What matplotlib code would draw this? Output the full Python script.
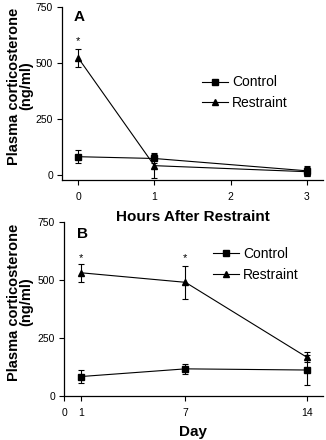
import matplotlib.pyplot as plt
from matplotlib.lines import Line2D

plt.rcParams['font.family'] = ['Liberation Sans', 'DejaVu Sans']

# panel A: hours after restraint
hours = [0, 1, 3]
ctrl_a = [82, 74, 19]
ctrl_a_err = [28, 22, 22]
rest_a = [524, 42, 15]
rest_a_err = [40, 57, 20]

# panel B: days of restraint
days = [1, 7, 14]
ctrl_b = [84, 117, 112]
ctrl_b_err = [27, 21, 65]
rest_b = [531, 490, 167]
rest_b_err = [40, 70, 22]

ylab = "Plasma corticosterone\n(ng/ml)"

fig = plt.figure(figsize=(3.26, 4.4), dpi=100)
axA = fig.add_axes([62/326, 1-180/440, 261/326, 173/440])
axB = fig.add_axes([64/326, 1-396/440, 259/326, 174/440])

handles = [Line2D([], [], color='black', marker='s', ms=4, lw=0.8),
           Line2D([], [], color='black', marker='^', ms=4, lw=0.8)]


def draw(ax, x, c, ce, r, re):
    ax.errorbar(x, c, yerr=ce, color='black', marker='s', ms=4.2, lw=0.8,
                elinewidth=0.8, capsize=2.5, capthick=0.8, clip_on=False)
    ax.errorbar(x, r, yerr=re, color='black', marker='^', ms=4, lw=0.8,
                elinewidth=0.8, capsize=2.5, capthick=0.8, clip_on=False)
    for s in ['top', 'right']:
        ax.spines[s].set_visible(False)
    ax.spines['left'].set_linewidth(0.9)
    ax.spines['bottom'].set_linewidth(0.9)
    ax.set_yticks([0, 250, 500, 750])
    ax.tick_params(labelsize=7.5, length=3.5, width=0.8, pad=3)
    ax.tick_params(axis='x', pad=5)


draw(axA, hours, ctrl_a, ctrl_a_err, rest_a, rest_a_err)
axA.set_xlim(-0.21, 3.21)
axA.set_ylim(-22, 750)
axA.set_xticks([0, 1, 2, 3])
axA.set_xlabel("Hours After Restraint", fontsize=11, fontweight='bold', labelpad=6)
fig.text(20/326, 1-86/440, ylab, rotation=90, ha='center', va='center',
         fontsize=10.5, fontweight='bold', linespacing=0.9)
fig.legend(handles, ['Control', 'Restraint'], frameon=False, fontsize=10,
           handlelength=1.9, handletextpad=0.3, labelspacing=0.45,
           loc='upper left', bbox_to_anchor=(0.58, 0.857))
axA.text(0.045, 0.985, "A", transform=axA.transAxes, fontsize=11,
         fontweight='bold', va='top')
axA.text(0, 575, "*", ha='center', va='bottom', fontsize=8)

draw(axB, days, ctrl_b, ctrl_b_err, rest_b, rest_b_err)
axB.set_xlim(0, 14.93)
axB.set_ylim(0, 750)
axB.set_xticks([0, 1, 7, 14])
axB.set_xlabel("Day", fontsize=11, fontweight='bold', labelpad=5)
fig.text(20/326, 1-302/440, ylab, rotation=90, ha='center', va='center',
         fontsize=10.5, fontweight='bold', linespacing=0.9)
fig.legend(handles, ['Control', 'Restraint'], frameon=False, fontsize=10,
           handlelength=1.9, handletextpad=0.3, labelspacing=0.5,
           loc='upper left', bbox_to_anchor=(0.614, 0.468))
axB.text(0.05, 0.974, "B", transform=axB.transAxes, fontsize=11,
         fontweight='bold', va='top')
axB.text(1, 575, "*", ha='center', va='bottom', fontsize=8)
axB.text(7, 575, "*", ha='center', va='bottom', fontsize=8)

fig.savefig("out.png", dpi=100)
